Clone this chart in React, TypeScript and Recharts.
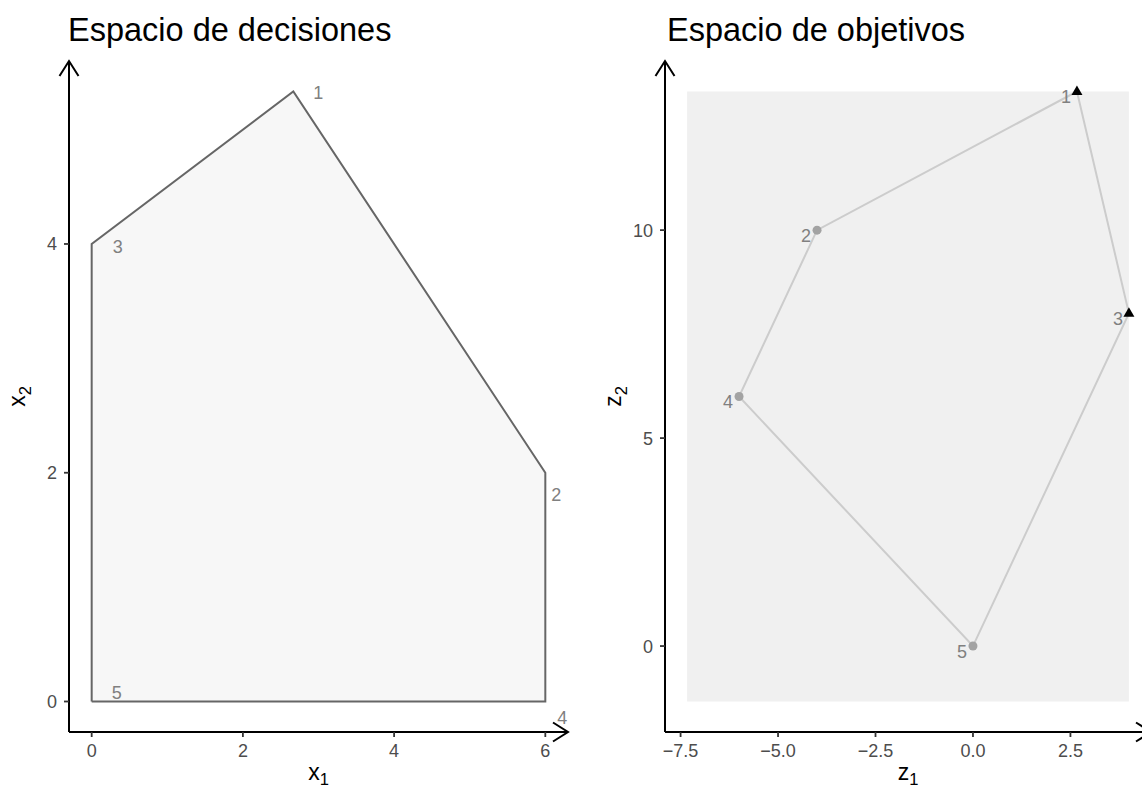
import React from 'react';
import { ScatterChart, Scatter, XAxis, YAxis, ReferenceArea } from 'recharts';

// Espacio de decisiones: vertices of the feasible region
const decisionLabels = ['1', '2', '3', '4', '5'];
const decisionX1 = [2.667, 6, 0, 6, 0];
const decisionX2 = [5.333, 2, 4, 0, 0];
const decisionOutline = [4, 3, 1, 0, 2, 4]; // vertex indices, closed path
const decisionXTicks = [0, 2, 4, 6];
const decisionYTicks = [0, 2, 4];

// Espacio de objetivos: image of the vertices
const objectiveLabels = ['1', '2', '3', '4', '5'];
const objectiveZ1 = [2.667, -4, 4, -6, 0];
const objectiveZ2 = [13.333, 10, 8, 6, 0];
const objectiveEfficient = [true, false, true, false, false];
const objectiveOutline = [0, 2, 4, 3, 1, 0];
const objectiveBoxZ1 = [-7.333, 4];
const objectiveBoxZ2 = [-1.333, 13.333];
const objectiveXTicks = [-7.5, -5, -2.5, 0, 2.5];
const objectiveYTicks = [0, 5, 10];

// label offsets in px (repelled labels in the left panel)
const decisionNudge: Record<string, [number, number]> = {
  '1': [25, 1],
  '2': [11, 22],
  '3': [26, 3],
  '4': [17, 16],
  '5': [25, -9],
};

const FONT = '"Liberation Sans", Arial, Helvetica, sans-serif';
const TICK_FS = 18;
const LABEL_FS = 18;
const AXIS_TITLE_FS = 23;
const TITLE_FS = 32.5;

const expand = (lo: number, hi: number): [number, number] => {
  const d = (hi - lo) * 0.05;
  return [lo - d, hi + d];
};

const decisionPoints = decisionLabels.map((label, i) => ({ x: decisionX1[i], y: decisionX2[i], label }));
const decisionPath = decisionOutline.map((i) => decisionPoints[i]);
const objectivePoints = objectiveLabels.map((label, i) => ({
  x: objectiveZ1[i],
  y: objectiveZ2[i],
  label,
  efficient: objectiveEfficient[i],
}));
const objectivePath = objectiveOutline.map((i) => objectivePoints[i]);

const decisionXDomain = expand(Math.min(...decisionX1), Math.max(...decisionX1));
const decisionYDomain = expand(Math.min(...decisionX2), Math.max(...decisionX2));
const objectiveXDomain = expand(Math.min(...objectiveZ1, ...objectiveBoxZ1), Math.max(...objectiveZ1, ...objectiveBoxZ1));
const objectiveYDomain = expand(Math.min(...objectiveZ2, ...objectiveBoxZ2), Math.max(...objectiveZ2, ...objectiveBoxZ2));

const fmtInt = (v: number) => String(v);
const fmtSigned = (v: number) => (v < 0 ? '\u2212' : '') + Math.abs(v).toFixed(1);

const axisLineX = { stroke: '#000', strokeWidth: 2, markerEnd: 'url(#axisArrow)' };
const axisLineY = { stroke: '#000', strokeWidth: 2, markerStart: 'url(#axisArrow)' };
const tickLine = { stroke: '#333', strokeWidth: 1.8 };

const xTick = (fmt: (v: number) => string) => (props: any) => (
  <text x={props.x} y={props.y} dy="0.71em" textAnchor="middle" fontSize={TICK_FS} fontFamily={FONT} fill="#4d4d4d">
    {fmt(props.payload.value)}
  </text>
);

const yTick = (fmt: (v: number) => string) => (props: any) => (
  <text x={props.x} y={props.y} dy="0.36em" textAnchor="end" fontSize={TICK_FS} fontFamily={FONT} fill="#4d4d4d">
    {fmt(props.payload.value)}
  </text>
);

const xTitle = (name: string) => (props: any) => {
  const vb = props.viewBox;
  return (
    <text x={vb.x + vb.width / 2} y={vb.y + 48} textAnchor="middle" fontSize={AXIS_TITLE_FS} fontFamily={FONT} fill="#000">
      {name}
      <tspan dy={4.5} fontSize={AXIS_TITLE_FS * 0.72}>1</tspan>
    </text>
  );
};

const yTitle = (name: string) => (props: any) => {
  const vb = props.viewBox;
  const cx = vb.x + vb.width - 51;
  const cy = vb.y + vb.height / 2;
  return (
    <text x={cx} y={cy} transform={`rotate(-90, ${cx}, ${cy})`} textAnchor="middle" dy={7} fontSize={AXIS_TITLE_FS} fontFamily={FONT} fill="#000">
      {name}
      <tspan dy={6} fontSize={AXIS_TITLE_FS * 0.72}>2</tspan>
    </text>
  );
};

const noShape = () => <g />;

const DecisionLabel = (props: any) => {
  const { cx, cy, payload } = props;
  const [dx, dy] = decisionNudge[payload.label] || [0, 0];
  return (
    <text x={cx + dx} y={cy + dy} textAnchor="middle" dominantBaseline="central" fontSize={LABEL_FS} fontFamily={FONT} fill="#808080">
      {payload.label}
    </text>
  );
};

const ObjectiveLabel = (props: any) => {
  const { cx, cy, payload } = props;
  return (
    <text x={cx - 11} y={cy + 5.5} textAnchor="middle" dominantBaseline="central" fontSize={LABEL_FS} fontFamily={FONT} fill="#808080">
      {payload.label}
    </text>
  );
};

const ObjectivePoint = (props: any) => {
  const { cx, cy, payload } = props;
  if (payload.efficient) {
    return <polygon points={`${cx},${cy - 6} ${cx - 5.5},${cy + 3.5} ${cx + 5.5},${cy + 3.5}`} fill="#000" />;
  }
  return <circle cx={cx} cy={cy} r={4.5} fill="#a3a3a3" />;
};

const Title = ({ left, children }: { left: number; children: React.ReactNode }) => (
  <div style={{ position: 'absolute', left, top: 14, fontSize: TITLE_FS, lineHeight: `${TITLE_FS}px`, fontFamily: FONT, color: '#000', whiteSpace: 'nowrap' }}>
    {children}
  </div>
);

export default function App() {
  return (
    <div style={{ position: 'fixed', left: 0, top: 0, width: 1142, height: 790, overflow: 'hidden', background: '#fff', fontFamily: FONT }}>
      <svg width={0} height={0} style={{ position: 'absolute' }}>
        <defs>
          <marker id="axisArrow" markerUnits="userSpaceOnUse" viewBox="0 0 18 22" markerWidth={18} markerHeight={22} refX={16} refY={11} orient="auto-start-reverse">
            <path d="M1,1.5 L16,11 L1,20.5" fill="none" stroke="#000" strokeWidth={2} />
          </marker>
        </defs>
      </svg>

      <Title left={68}>Espacio de decisiones</Title>
      <Title left={667}>Espacio de objetivos</Title>

      <div style={{ position: 'absolute', left: 0, top: 0 }}>
        <ScatterChart width={580} height={790} margin={{ top: 61, right: 12, bottom: 0, left: 0 }}>
          <XAxis
            type="number"
            dataKey="x"
            domain={decisionXDomain}
            allowDataOverflow
            ticks={decisionXTicks}
            height={58}
            tickSize={5}
            tickMargin={7}
            axisLine={axisLineX}
            tickLine={tickLine}
            tick={xTick(fmtInt)}
            label={{ content: xTitle('x') }}
          />
          <YAxis
            type="number"
            dataKey="y"
            domain={decisionYDomain}
            allowDataOverflow
            ticks={decisionYTicks}
            width={69}
            tickSize={5}
            tickMargin={7}
            axisLine={axisLineY}
            tickLine={tickLine}
            tick={yTick(fmtInt)}
            label={{ content: yTitle('x') }}
          />
          <Scatter
            data={decisionPath}
            line={{ stroke: '#666666', strokeWidth: 2, fill: '#f7f7f7' }}
            shape={noShape}
            isAnimationActive={false}
          />
          <Scatter data={decisionPoints} shape={DecisionLabel} isAnimationActive={false} />
        </ScatterChart>
      </div>

      <div style={{ position: 'absolute', left: 580, top: 0 }}>
        <ScatterChart width={600} height={790} margin={{ top: 61, right: 29, bottom: 0, left: 0 }}>
          <XAxis
            type="number"
            dataKey="x"
            domain={objectiveXDomain}
            allowDataOverflow
            ticks={objectiveXTicks}
            height={58}
            tickSize={5}
            tickMargin={7}
            axisLine={axisLineX}
            tickLine={tickLine}
            tick={xTick(fmtSigned)}
            label={{ content: xTitle('z') }}
          />
          <YAxis
            type="number"
            dataKey="y"
            domain={objectiveYDomain}
            allowDataOverflow
            ticks={objectiveYTicks}
            width={85}
            tickSize={5}
            tickMargin={7}
            axisLine={axisLineY}
            tickLine={tickLine}
            tick={yTick(fmtInt)}
            label={{ content: yTitle('z') }}
          />
          <ReferenceArea
            x1={objectiveBoxZ1[0]}
            x2={objectiveBoxZ1[1]}
            y1={objectiveBoxZ2[0]}
            y2={objectiveBoxZ2[1]}
            fill="#f0f0f0"
            fillOpacity={1}
            stroke="none"
          />
          <Scatter
            data={objectivePath}
            line={{ stroke: '#cccccc', strokeWidth: 2 }}
            shape={noShape}
            isAnimationActive={false}
          />
          <Scatter data={objectivePoints} shape={ObjectivePoint} isAnimationActive={false} />
          <Scatter data={objectivePoints} shape={ObjectiveLabel} isAnimationActive={false} />
        </ScatterChart>
      </div>
    </div>
  );
}
